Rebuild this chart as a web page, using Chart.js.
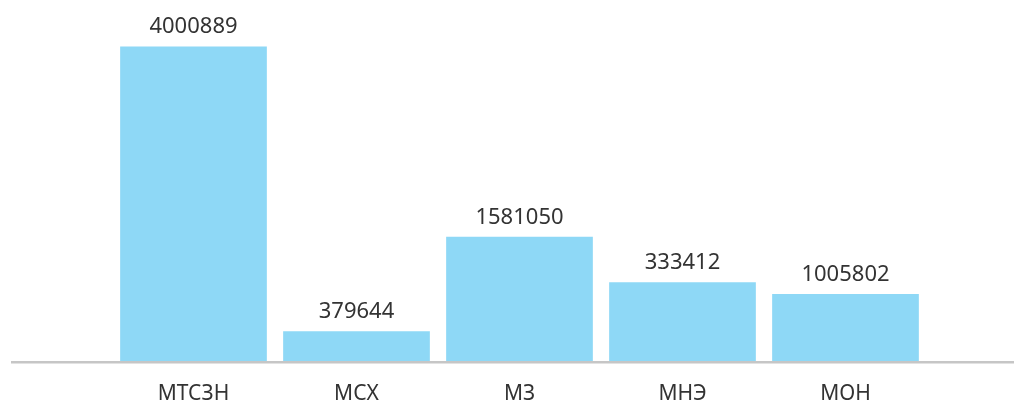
<!DOCTYPE html>
<html>
<head>
<meta charset="utf-8">
<script src="https://cdn.jsdelivr.net/npm/chart.js@4"></script>
<style>
  html, body { margin: 0; padding: 0; background: #fff; }
  #wrap { width: 1014px; height: 401px; }
</style>
</head>
<body>
<div id="wrap"><canvas id="chart"></canvas></div>
<script>
// categories
var categories = ['МТСЗН', 'МСХ', 'МЗ', 'МНЭ', 'МОН'];
// bar heights
var values = [4000889, 379644, 1581050, 1003000, 851000];
// numbers printed above the bars
var valueLabels = ['4000889', '379644', '1581050', '333412', '1005802'];

var textColor = '#333333';
var fontFamily = '"Noto Sans", sans-serif';

// labels above bars + long baseline
var extras = {
  id: 'extras',
  beforeDatasetsDraw: function(chart){
    var ctx = chart.ctx, y = chart.chartArea.bottom + 1.2;
    ctx.save();
    ctx.strokeStyle = '#c6c6c6';
    ctx.lineWidth = 2.4;
    ctx.beginPath();
    ctx.moveTo(11, y);
    ctx.lineTo(1014, y);
    ctx.stroke();
    ctx.restore();
  },
  afterDatasetsDraw: function(chart){
    var ctx = chart.ctx;
    var meta = chart.getDatasetMeta(0);
    ctx.save();
    ctx.fillStyle = textColor;
    ctx.font = '22px ' + fontFamily;
    ctx.textAlign = 'center';
    ctx.textBaseline = 'alphabetic';
    meta.data.forEach(function(bar, i){
      ctx.fillText(valueLabels[i], bar.x, bar.y - 13);
    });
    ctx.restore();
  }
};

new Chart(document.getElementById('chart'), {
  type: 'bar',
  data: {
    labels: categories,
    datasets: [{
      data: values,
      backgroundColor: '#8ed8f6',
      borderWidth: 0,
      categoryPercentage: 1,
      barPercentage: 0.9
    }]
  },
  options: {
    responsive: true,
    maintainAspectRatio: false,
    animation: false,
    layout: { padding: { left: 112, right: 87, top: 15, bottom: 0 } },
    plugins: { legend: { display: false }, tooltip: { enabled: false } },
    scales: {
      x: {
        grid: { display: false, drawTicks: false },
        border: { display: false },
        ticks: { color: textColor, font: { family: fontFamily, size: 21 }, padding: 20 },
        afterFit: function(scale){ scale.height = 40; }
      },
      y: { display: false, min: 0, max: 4400000 }
    }
  },
  plugins: [extras]
});
</script>
</body>
</html>
